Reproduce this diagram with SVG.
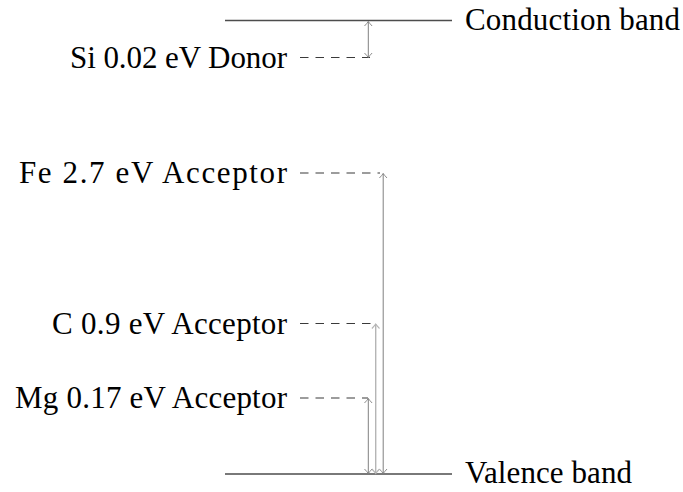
<svg xmlns="http://www.w3.org/2000/svg" width="683" height="492" viewBox="0 0 683 492">
<style>
.band{stroke:#4d4d4d;stroke-width:1.3;fill:none}
.lvl{stroke:#3a3a3a;stroke-width:1.2;stroke-dasharray:8.5 7;fill:none}
.arr{stroke:#808080;stroke-width:1;fill:none;marker-start:url(#ah);marker-end:url(#ah)}
.arrl{stroke:#b5b5b5;stroke-width:1.4;fill:none;marker-start:url(#ahl);marker-end:url(#ahl)}
.t{font-family:'Liberation Serif','Times New Roman',serif;font-size:31px;fill:#000}
</style>
<defs>
<marker id="ah" viewBox="-6 -5 8 10" markerWidth="8" markerHeight="10" refX="0" refY="0" orient="auto-start-reverse" markerUnits="userSpaceOnUse">
<path d="M-4.5,-3.8 Q-1.5,-1 0,0 Q-1.5,1 -4.5,3.8" stroke="#808080" stroke-width="0.9" fill="none"/>
</marker>
<marker id="ahl" viewBox="-6 -5 8 10" markerWidth="8" markerHeight="10" refX="0" refY="0" orient="auto-start-reverse" markerUnits="userSpaceOnUse">
<path d="M-4.5,-3.8 Q-1.5,-1 0,0 Q-1.5,1 -4.5,3.8" stroke="#b5b5b5" stroke-width="1.1" fill="none"/>
</marker>
</defs>
<g id="conduction">
<line class="band" x1="225" y1="20.5" x2="452" y2="20.5"/>
<text class="t" x="465" y="30" textLength="215">Conduction band</text>
</g>
<g id="valence">
<line class="band" x1="225" y1="474" x2="452" y2="474"/>
<text class="t" x="465" y="483" textLength="167">Valence band</text>
</g>
<g id="si">
<line class="lvl" x1="300" y1="57.5" x2="370" y2="57.5"/>
<text class="t" x="287" y="68" text-anchor="end" textLength="217">Si 0.02 eV Donor</text>
</g>
<g id="fe">
<line class="lvl" x1="300" y1="173" x2="380" y2="173"/>
<text class="t" x="287" y="183" text-anchor="end" textLength="268">Fe 2.7 eV Acceptor</text>
</g>
<g id="c">
<line class="lvl" x1="300" y1="323.5" x2="374" y2="323.5"/>
<text class="t" x="287" y="334" text-anchor="end" textLength="235">C 0.9 eV Acceptor</text>
</g>
<g id="mg">
<line class="lvl" x1="300" y1="398" x2="368" y2="398"/>
<text class="t" x="287" y="408" text-anchor="end" textLength="272">Mg 0.17 eV Acceptor</text>
</g>
<g id="connectors">
<line class="arr" x1="368.3" y1="21.5" x2="368.3" y2="57.5"/>
<line class="arr" x1="383.2" y1="173.5" x2="383.2" y2="473.5"/>
<line class="arrl" x1="375.7" y1="324" x2="375.7" y2="473.5"/>
<line class="arr" x1="368.3" y1="398.5" x2="368.3" y2="473.5"/>
</g>
</svg>
